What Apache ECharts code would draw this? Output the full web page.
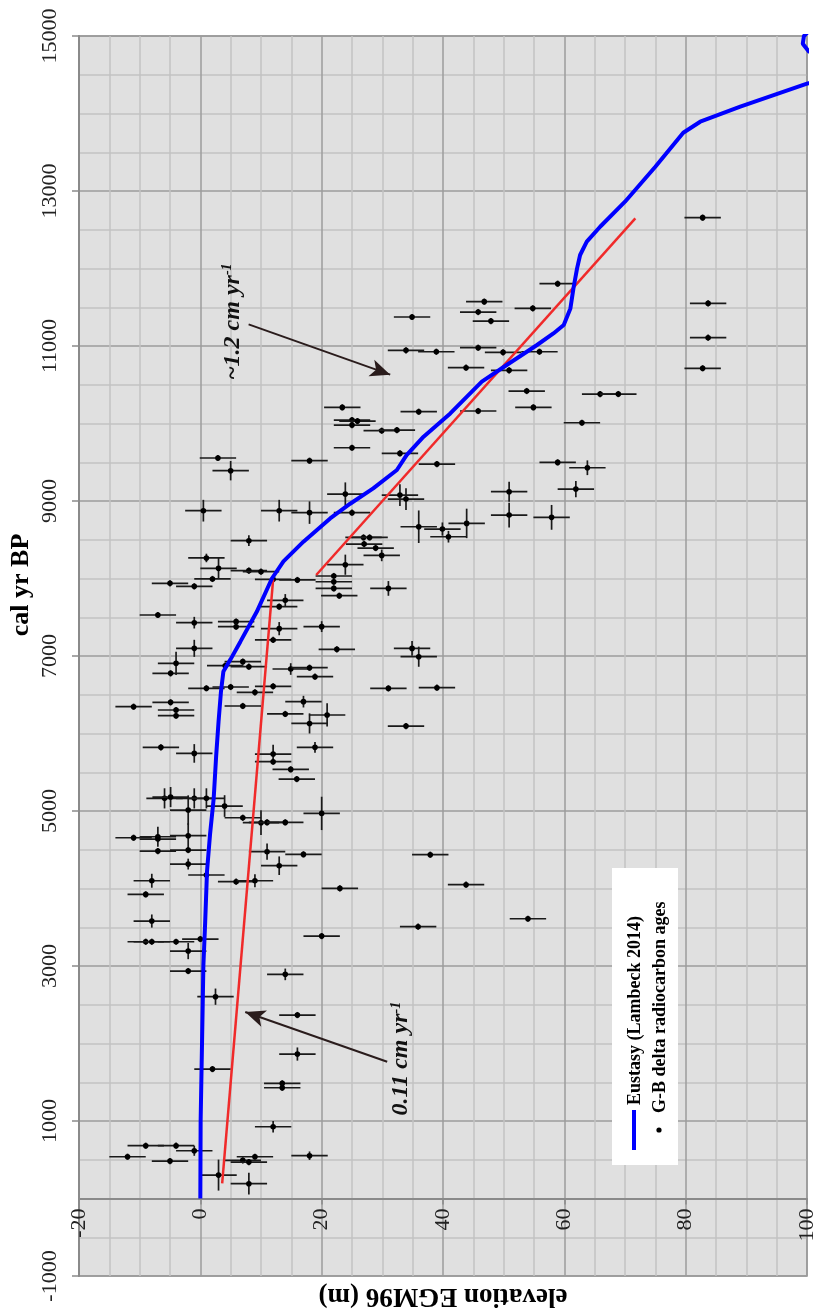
<!DOCTYPE html>
<html>
<head>
<meta charset="utf-8">
<script src="https://cdn.jsdelivr.net/npm/echarts@6/dist/echarts.min.js"></script>
<style>
html, body { margin: 0; padding: 0; background: #fff; }
#chart { width: 814px; height: 1310px; }
</style>
</head>
<body>
<div id="chart"></div>
<script>
// G-B delta radiocarbon ages: elevation (m), age (cal yr BP), half error bars
var elevation = [
  2.9, 5.0, 18.0, 0.5, 13.0, 18.0, 8.0, 1.0, 3.0, 8.0, 10.0, 2.0, -5.0, -1.0, 12.0, 16.0,
  22.0, 22.0, 22.0, 22.9, 14.0, 13.0, -7.0, -1.0, 5.9, 5.9, 13.0, 12.0, 20.0, 22.5, -1.0, -4.0,
  -4.9, 4.1, 7.0, 8.0, 14.9, 18.0, 18.9, 1.0, 5.0, 9.0, 12.0, -11.0, -4.9, -4.0, -4.0, 7.0,
  17.0, 14.0, 20.9,
  18.0, -6.5, -1.0, 12.0, 12.0, 18.9, 14.9, 15.9, -5.9, -4.9, -1.0, 1.0, 4.0, -2.0, 7.0, 10.0,
  11.0, 14.0, 20.0, -11.0, -7.0, -7.0, -2.0, -7.0, -2.0, -2.0, 1.0, 11.0, 13.0, 17.0, -8.0, -9.0,
  5.9, 9.0, 23.0, -8.0, -9.0, -8.0, -4.0, 0.0, -2.0, -2.0, 20.0, 14.0, 2.5,
  16.0, 16.0, 2.0, 13.5, 13.5, 12.0, -9.0, -4.0, -1.0, -12.0, -5.0, 3.0, 7.0, 8.0, 9.0, 8.0, 18.0,
  23.4, 25.0, 25.0, 25.9, 29.9, 32.4, 36.0, 25.0, 32.9, 39.0, 23.9, 25.0, 32.9, 33.9, 36.0, 39.9,
  40.9, 43.9, 50.9, 50.9, 57.9, 58.9, 63.8, 61.9, 53.8, 54.9, 65.9, 68.9, 62.9, 45.8, 26.9, 27.9,
  27.0, 28.9, 29.9, 23.9, 31.0, 34.9, 36.0, 31.0, 39.0, 33.9,
  37.9, 43.8, 54.0, 35.9,
  82.8, 58.9, 46.8, 45.8, 47.9, 34.9, 54.8, 83.7, 83.7, 82.8, 33.9, 38.9, 45.8, 49.9, 55.9, 43.8, 50.9
];
var calAge = [
  9555, 9391, 9520, 8875, 8875, 8850, 8488, 8265, 8131, 8101, 8088, 7994, 7938, 7899, 7990, 7981,
  8032, 7958, 7872, 7778, 7719, 7637, 7529, 7430, 7443, 7378, 7353, 7207, 7379, 7086, 7099, 6905,
  6776, 6875, 6927, 6862, 6832, 6849, 6733, 6583, 6600, 6531, 6609, 6346, 6402, 6303, 6230, 6355,
  6411, 6252, 6239,
  6130, 5821, 5743, 5735, 5636, 5821, 5537, 5412, 5163, 5180, 5163, 5163, 5064, 5012, 4913, 4849,
  4853, 4853, 4969, 4655, 4668, 4638, 4681, 4483, 4496, 4315, 4174, 4475, 4294, 4440, 4100, 3924,
  4088, 4100, 4001, 3580, 3313, 3313, 3313, 3348, 3193, 2935, 3386, 2892, 2604,
  2367, 1864, 1670, 1485, 1429, 926, 681, 681, 616, 539, 483, 302, 492, 470, 539, 191, 552,
  10208, 10044, 9980, 10031, 9907, 9915, 10152, 9687, 9614, 9477, 9090, 8849, 9077, 9025, 8668, 8638,
  8539, 8711, 9120, 8819, 8789, 9498, 9429, 9154, 10419, 10208, 10380, 10380, 10010, 10161, 8530, 8530,
  8444, 8393, 8298, 8178, 7872, 7098, 6991, 6582, 6591, 6096,
  4436, 4049, 3610, 3507,
  12656, 11804, 11572, 11438, 11322, 11374, 11486, 11550, 11107, 10712, 10944, 10926, 10978, 10918, 10926, 10720, 10686
];
var ageErr = [
  40, 125, 40, 140, 140, 145, 70, 55, 135, 40, 40, 40, 40, 40, 40, 40,
  40, 40, 40, 40, 80, 40, 40, 75, 40, 40, 85, 40, 70, 40, 110, 150,
  40, 40, 40, 40, 75, 40, 40, 40, 40, 40, 40, 40, 40, 40, 40, 40,
  75, 40, 150,
  130, 40, 120, 120, 40, 70, 40, 40, 130, 130, 130, 130, 140, 190, 40, 160,
  40, 40, 215, 40, 130, 40, 160, 40, 40, 70, 40, 105, 120, 40, 90, 40,
  40, 85, 40, 85, 40, 40, 40, 40, 105, 40, 40, 75, 105,
  40, 85, 40, 40, 40, 75, 40, 40, 65, 40, 40, 200, 40, 40, 40, 140, 55,
  40, 40, 40, 40, 40, 40, 40, 40, 40, 40, 150, 40, 140, 140, 210, 85,
  75, 190, 130, 160, 160, 40, 95, 105, 40, 40, 40, 40, 40, 40, 40, 40,
  40, 40, 75, 130, 95, 95, 130, 40, 40, 40,
  40, 40, 40, 40,
  40, 40, 40, 40, 40, 40, 40, 40, 40, 40, 40, 40, 40, 40, 40, 40, 40
];
var elevErr = elevation.map(function () { return 3; });

// Eustasy curve (Lambeck 2014)
var eustasyElev = [0, 0.05, 0.3, 0.4, 0.5, 0.8, 1.1, 1.6, 2.2, 2.6, 3.0, 3.4, 3.8, 5.0, 6.6, 9.3, 11.8,
  13.7, 17.0, 21.4, 24.7, 28.5, 32.4, 34.0, 36.8, 41.2, 46.4, 50.5, 55.5, 58.2, 59.9, 61.0, 61.5,
  62.1, 62.6, 63.7, 65.9, 70.0, 75.0, 79.6, 82.4, 89.0, 100, 108, 104, 100.3, 99.3, 99.5, 100.5];
var eustasyAge = [0, 1000, 2100, 2540, 3000, 3570, 4220, 4700, 5160, 5700, 6150, 6540, 6800, 6960, 7185, 7570, 8000,
  8220, 8475, 8775, 8965, 9163, 9400, 9593, 9830, 10130, 10540, 10755, 11013, 11162, 11271, 11485, 11743,
  12001, 12174, 12346, 12539, 12862, 13313, 13752, 13894, 14088, 14385, 14560, 14720, 14800, 14900, 15000, 15080];

// linear trends
var trendLowElev = [3.6, 12.0];
var trendLowAge = [195, 7990];
var trendHighElev = [19.1, 71.7];
var trendHighAge = [8045, 12647];

// annotation arrows [fromElev, fromAge, toElev, toAge]
var arrowHigh = [7.96, 11279, 31.3, 10630];
var arrowLow = [30.8, 1765, 7.4, 2407];

var serif = '"Liberation Serif", "Times New Roman", serif';

function pairs(xs, ys) {
  return xs.map(function (x, i) { return [x, ys[i]]; });
}

var pointData = elevation.map(function (e, i) {
  return [e, calAge[i], elevErr[i], ageErr[i]];
});

var chart = echarts.init(document.getElementById('chart'));

var option = {
  animation: false,
  backgroundColor: '#fff',
  grid: {
    left: 79, right: 7, top: 36, bottom: 34,
    containLabel: false, outerBoundsMode: 'none',
    show: true, backgroundColor: '#e0e0e0', borderColor: '#8a8a8a', borderWidth: 1.5
  },
  xAxis: {
    type: 'value', min: -20, max: 100, interval: 20,
    name: 'elevation EGM96 (m)', nameLocation: 'middle', nameGap: 84, nameRotate: 180,
    nameTextStyle: { fontFamily: serif, fontWeight: 'bold', fontSize: 27, color: '#000' },
    axisLine: { onZero: false, lineStyle: { color: '#8a8a8a', width: 2 } },
    axisTick: { show: true, length: 6, lineStyle: { color: '#8a8a8a', width: 1.5 } },
    axisLabel: { rotate: 90, margin: 10, fontFamily: serif, fontSize: 22, color: '#222',
      formatter: function (v) { return String(v); } },
    splitLine: { lineStyle: { color: '#9c9c9c', width: 1.5 } },
    minorTick: { show: false, splitNumber: 4 },
    minorSplitLine: { show: true, lineStyle: { color: '#c2c2c2', width: 1.5 } }
  },
  yAxis: {
    type: 'value', min: -1000, max: 15000, interval: 2000,
    axisLine: { show: true, onZero: false, lineStyle: { color: '#8a8a8a', width: 2 } },
    axisTick: { show: true, length: 7, lineStyle: { color: '#8a8a8a', width: 1.5 } },
    axisLabel: { rotate: 90, margin: 18, fontFamily: serif, fontSize: 22, color: '#222',
      formatter: function (v) { return String(v); } },
    splitLine: { lineStyle: { color: '#9c9c9c', width: 1.5 } },
    minorTick: { show: false, splitNumber: 4 },
    minorSplitLine: { show: true, lineStyle: { color: '#c2c2c2', width: 1.5 } }
  },
  series: [
    {
      name: 'G-B delta radiocarbon ages',
      type: 'custom',
      clip: true,
      z: 2,
      encode: { x: 0, y: 1 },
      data: pointData,
      renderItem: function (params, api) {
        var e = api.value(0), c = api.value(1), de = api.value(2), dc = api.value(3);
        var p = api.coord([e, c]);
        var l = api.coord([e - de, c]), r = api.coord([e + de, c]);
        var t = api.coord([e, c + dc]), b = api.coord([e, c - dc]);
        var st = { stroke: '#1a1a1a', lineWidth: 1.7 };
        return {
          type: 'group',
          children: [
            { type: 'line', shape: { x1: l[0], y1: l[1], x2: r[0], y2: r[1] }, style: st },
            { type: 'line', shape: { x1: t[0], y1: t[1], x2: b[0], y2: b[1] }, style: st },
            { type: 'circle', shape: { cx: p[0], cy: p[1], r: 2.8 }, style: { fill: '#000' } }
          ]
        };
      }
    },
    {
      name: 'trend low',
      type: 'line',
      z: 3,
      symbol: 'none',
      data: pairs(trendLowElev, trendLowAge),
      lineStyle: { color: '#f02a2a', width: 2.5 }
    },
    {
      name: 'trend high',
      type: 'line',
      z: 3,
      symbol: 'none',
      data: pairs(trendHighElev, trendHighAge),
      lineStyle: { color: '#f02a2a', width: 2.5 },
      markLine: {
        silent: true,
        symbol: ['none', 'arrow'],
        symbolSize: [13, 20],
        label: { show: false },
        lineStyle: { color: '#2a1c1c', width: 2, type: 'solid' },
        data: [
          [{ coord: [arrowHigh[0], arrowHigh[1]] }, { coord: [arrowHigh[2], arrowHigh[3]] }],
          [{ coord: [arrowLow[0], arrowLow[1]] }, { coord: [arrowLow[2], arrowLow[3]] }]
        ]
      }
    },
    {
      name: 'Eustasy (Lambeck 2014)',
      type: 'line',
      z: 4,
      symbol: 'none',
      clip: true,
      data: pairs(eustasyElev, eustasyAge),
      lineStyle: { color: '#0000ff', width: 4 }
    }
  ]
};

chart.setOption(option);

// move the elevation axis up to cal yr 0, measured through the y scale
var yZero = chart.convertToPixel({ yAxisIndex: 0 }, 0);
var yMin = chart.convertToPixel({ yAxisIndex: 0 }, -1000);

// annotation anchors in data units
var noteHigh = chart.convertToPixel({ gridIndex: 0 }, [5.3, 11313]);
var noteLow = chart.convertToPixel({ gridIndex: 0 }, [33.1, 1804]);

function note(pos, txt) {
  return {
    type: 'text', x: pos[0], y: pos[1], rotation: Math.PI / 2, z: 10,
    style: {
      text: '{m|' + txt + '}{s|-1}',
      align: 'center', verticalAlign: 'middle',
      rich: {
        m: { fontFamily: serif, fontSize: 24, fontWeight: 'bold', fontStyle: 'italic', fill: '#111' },
        s: { fontFamily: serif, fontSize: 14, fontWeight: 'bold', fontStyle: 'italic', fill: '#111', verticalAlign: 'top' }
      }
    }
  };
}

chart.setOption({
  xAxis: { offset: yZero - yMin },
  graphic: [
    {
      type: 'text', x: 21, y: 585, rotation: Math.PI / 2,
      style: { text: 'cal yr BP', fontFamily: serif, fontWeight: 'bold', fontSize: 26, fill: '#000', align: 'center', verticalAlign: 'middle' }
    },
    note(noteHigh, '~1.2 cm yr'),
    note(noteLow, '0.11 cm yr'),
    {
      type: 'group', z: 10,
      children: [
        { type: 'rect', shape: { x: 612, y: 868, width: 66, height: 297 }, style: { fill: '#fff' } },
        { type: 'line', shape: { x1: 634, y1: 1150, x2: 634, y2: 1110 }, style: { stroke: '#0000ff', lineWidth: 4 } },
        { type: 'circle', shape: { cx: 659, cy: 1130, r: 2.6 }, style: { fill: '#000' } },
        {
          type: 'text', x: 635, y: 1105, rotation: Math.PI / 2,
          style: { text: 'Eustasy (Lambeck 2014)', fontFamily: serif, fontWeight: 'bold', fontSize: 18, fill: '#000', align: 'left', verticalAlign: 'middle' }
        },
        {
          type: 'text', x: 660, y: 1113, rotation: Math.PI / 2,
          style: { text: 'G-B delta radiocarbon ages', fontFamily: serif, fontWeight: 'bold', fontSize: 18, fill: '#000', align: 'left', verticalAlign: 'middle' }
        }
      ]
    }
  ]
});
</script>
</body>
</html>
